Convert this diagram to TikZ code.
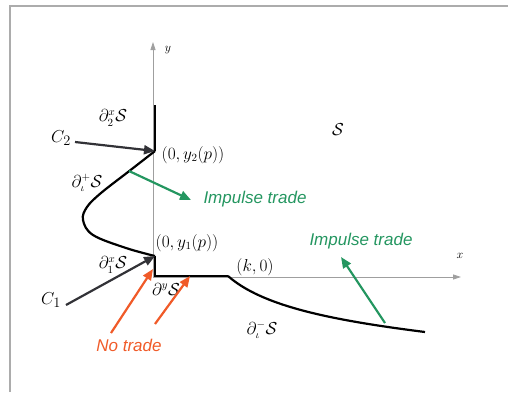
\documentclass[tikz,border=0pt]{standalone}
\usepackage{fontspec}
\newfontfamily\annotfont{Liberation Sans}
\usetikzlibrary{arrows.meta}
\definecolor{tradegreen}{RGB}{36,150,96}
\definecolor{noorange}{RGB}{240,90,40}
\definecolor{arrowgray}{RGB}{50,50,55}
\begin{document}
\begin{tikzpicture}[x=1pt,y=-1pt,
  bnd/.style={line width=2.2pt, line join=miter},
  axisline/.style={draw=gray!75, line width=0.8pt, -{Triangle[length=8pt,width=5pt]}},
  pointer/.style={line width=2.2pt, -{Triangle[length=11pt,width=9pt]}},
  mlab/.style={inner sep=0pt, font=\fontsize{16}{19}\selectfont},
  clab/.style={inner sep=0pt, font=\fontsize{16}{19}\selectfont},
  blab/.style={inner sep=0pt, font=\fontsize{19}{22}\selectfont},
  alab/.style={inner sep=0pt, font=\fontsize{13}{15}\selectfont},
  tlab/.style={inner sep=0pt, font=\annotfont\itshape\fontsize{17}{20}\selectfont}]
\useasboundingbox (0,0) rectangle (508,392);
\draw[gray!65, line width=1.3pt] (10,392) -- (10,6) -- (508,6);

% axes
\coordinate (O) at (153,277);
\coordinate (ytip) at (153,42);
\coordinate (xtip) at (461,277);
\draw[axisline] (O) -- (ytip);
\draw[axisline] (O) -- (xtip);
\node[alab] (ylab) at (168,50) {$y$};
\node[alab] (xlab) at (460,256) {$x$};

% boundary points
\coordinate (top) at (155,105);
\coordinate (P2) at (155,151);
\coordinate (P1) at (155,256);
\coordinate (corner) at (155,276);
\coordinate (K) at (228,276);
\coordinate (end) at (425,332);

\draw[bnd] (top) -- (P2);
\draw[bnd] plot[smooth, tension=0.6] coordinates {(155,151) (128,172) (101,193) (87,207) (83,220) (93,235) (126,248) (155,256)};
\draw[bnd] (P1) -- (corner) -- (K);
\draw[bnd] (K) .. controls (262,306) and (330,320) .. (end);

% labels
\node[mlab] (d2) at (113,118) {$\partial_2^x\mathcal{S}$};
\node[mlab] (dplus) at (87,183) {$\partial_\iota^+\mathcal{S}$};
\node[mlab] (d1) at (113,265) {$\partial_1^x\mathcal{S}$};
\node[mlab] (dy) at (166,289) {$\partial^y\mathcal{S}$};
\node[mlab] (dminus) at (262,330) {$\partial_\iota^-\mathcal{S}$};
\node[mlab] (S) at (338,130) {$\mathcal{S}$};
\node[clab] (y2) at (193,155) {$(0,y_2(p))$};
\node[clab] (y1) at (187,243) {$(0,y_1(p))$};
\node[clab] (k0) at (255,267) {$(k,0)$};
\node[blab] (C2) at (61,138) {$C_2$};
\node[blab] (C1) at (51,300) {$C_1$};

% gray pointers
\coordinate (c2tail) at (75,142);
\coordinate (c1tail) at (66,305);
\draw[pointer, arrowgray] (c2tail) -- (P2);
\draw[pointer, arrowgray] (c1tail) -- (P1);

% impulse trade
\node[tlab, text=tradegreen] (imp1) at (255,199) {Impulse trade};
\node[tlab, text=tradegreen] (imp2) at (361,241) {Impulse trade};
\coordinate (g1tail) at (129,171);
\coordinate (g1head) at (191,200);
\coordinate (g2tail) at (385,323);
\coordinate (g2head) at (341,257);
\draw[pointer, tradegreen] (g1tail) -- (g1head);
\draw[pointer, tradegreen] (g2tail) -- (g2head);

% no trade
\node[tlab, text=noorange] (notrade) at (129,345) {No trade};
\coordinate (o1tail) at (111,333);
\coordinate (o1head) at (153,269);
\coordinate (o2tail) at (155,324);
\coordinate (o2head) at (190,276);
\draw[pointer, noorange] (o1tail) -- (o1head);
\draw[pointer, noorange] (o2tail) -- (o2head);
\end{tikzpicture}
\end{document}
